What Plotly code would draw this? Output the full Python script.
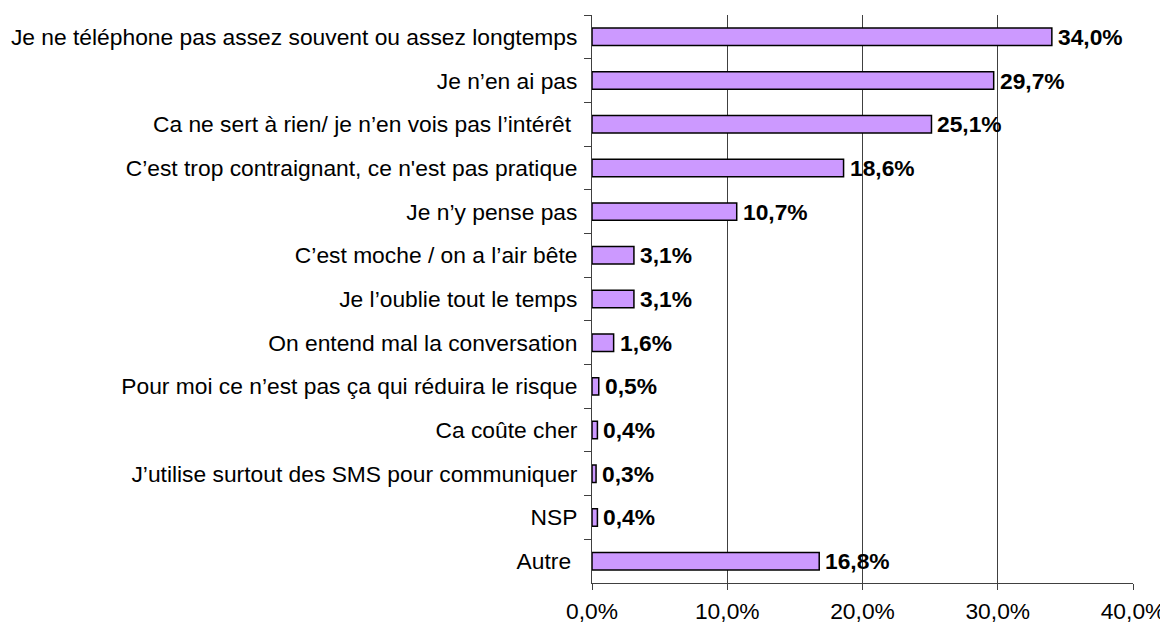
import plotly.graph_objects as go

categories = [
    "Je ne téléphone pas assez souvent ou assez longtemps",
    "Je n’en ai pas",
    "Ca ne sert à rien/ je n’en vois pas l’intérêt\u00a0",
    "C’est trop contraignant, ce n'est pas pratique",
    "Je n’y pense pas",
    "C’est moche / on a l’air bête",
    "Je l’oublie tout le temps",
    "On entend mal la conversation",
    "Pour moi ce n’est pas ça qui réduira le risque",
    "Ca coûte cher",
    "J’utilise surtout des SMS pour communiquer",
    "NSP",
    "Autre\u00a0",
]
values = [34.0, 29.7, 25.1, 18.6, 10.7, 3.1, 3.1, 1.6, 0.5, 0.4, 0.3, 0.4, 16.8]
value_labels = ["34,0%", "29,7%", "25,1%", "18,6%", "10,7%", "3,1%", "3,1%",
                "1,6%", "0,5%", "0,4%", "0,3%", "0,4%", "16,8%"]
x_ticks = [0, 10, 20, 30, 40]
x_tick_labels = ["0,0%", "10,0%", "20,0%", "30,0%", "40,0%"]

FONT = "Liberation Sans, Arial, sans-serif"
FS = 22.8

fig = go.Figure()
fig.add_trace(go.Bar(
    x=values,
    y=categories,
    orientation="h",
    marker=dict(color="#CC99FF", line=dict(color="#000000", width=1.5)),
    hoverinfo="skip",
))

for v, c, t in zip(values, categories, value_labels):
    fig.add_annotation(
        x=v, y=c, text="<b>" + t + "</b>", showarrow=False,
        xanchor="left", yanchor="middle", xshift=4,
        font=dict(family=FONT, size=FS, color="#000000"),
    )

fig.update_layout(
    width=1168, height=625,
    margin=dict(l=584, r=43, t=7, b=50),
    paper_bgcolor="white", plot_bgcolor="white",
    bargap=0.6,
    showlegend=False,
    font=dict(family=FONT, size=FS, color="#000000"),
)
fig.update_xaxes(
    range=[0, 40],
    tickvals=x_ticks,
    ticktext=x_tick_labels,
    showgrid=True, gridcolor="#404040", gridwidth=1,
    showline=True, linecolor="#404040", linewidth=1,
    ticks="outside", ticklen=6, tickcolor="#404040",
    zeroline=False,
    automargin=False,
    ticklabelstandoff=2,
    tickfont=dict(family=FONT, size=FS, color="#000000"),
)
fig.update_yaxes(
    categoryorder="array", categoryarray=categories,
    autorange="reversed",
    showline=True, linecolor="#404040", linewidth=1,
    ticks="outside", ticklen=7, tickcolor="#404040",
    tickson="boundaries",
    ticklabelstandoff=9,
    automargin=False,
    showgrid=False,
    tickfont=dict(family=FONT, size=FS, color="#000000"),
)

fig.write_html("out.html")
